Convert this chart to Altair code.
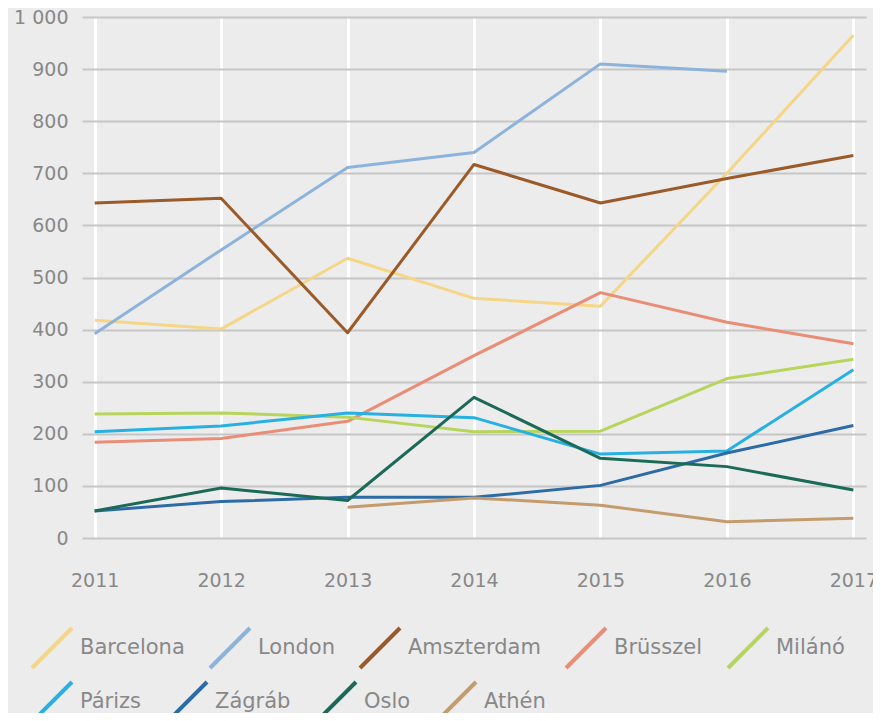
import altair as alt
import pandas as pd

years = ["2011", "2012", "2013", "2014", "2015", "2016", "2017"]
cities = ["Barcelona", "London", "Amszterdam", "Brüsszel", "Milánó",
          "Párizs", "Zágráb", "Oslo", "Athén"]
colors = ["#f5d686", "#8db3dc", "#9a5a2a", "#ea8d76", "#b7d55c",
          "#27b0e2", "#2c6ba5", "#1b6a58", "#c49b6d"]

barcelona = [418, 401, 537, 460, 445, 700, 965]
london = [392, 553, 711, 740, 910, 896, None]
amszterdam = [643, 652, 394, 717, 643, 690, 734]
brusszel = [184, 191, 224, 350, 471, 414, 373]
milano = [238, 240, 232, 204, 205, 306, 343]
parizs = [204, 215, 240, 231, 161, 167, 323]
zagrab = [52, 70, 78, 78, 101, 163, 216]
oslo = [52, 96, 72, 270, 153, 137, 92]
athen = [None, None, 59, 77, 63, 31, 38]

series = [barcelona, london, amszterdam, brusszel, milano, parizs, zagrab, oslo, athen]

rows = []
for city, vals in zip(cities, series):
    for y, v in zip(years, vals):
        if v is not None:
            rows.append({"Év": y, "Város": city, "Érték": v})
df = pd.DataFrame(rows)

row1 = cities[:5]
row2 = cities[5:]

x_enc = alt.X("Év:O", sort=years,
              scale=alt.Scale(type="point", padding=0.1),
              axis=alt.Axis(title=None, labelAngle=0, domain=False, ticks=False,
                            grid=True, gridColor="#ffffff", gridWidth=3,
                            labelPadding=33, labelFontSize=19, labelColor="#888888",
                            labelFont="DejaVu Sans"))
y_enc = alt.Y("Érték:Q",
              scale=alt.Scale(domain=[0, 1000], nice=False),
              axis=alt.Axis(title=None, domain=False, ticks=False, grid=True,
                            gridColor="#c6c6c6", gridWidth=2,
                            values=list(range(0, 1001, 100)),
                            labelExpr="replace(format(datum.value, ','), ',', ' ')",
                            labelPadding=14, labelFontSize=19, labelColor="#888888",
                            labelFont="DejaVu Sans"))


def legend(ly):
    return alt.Legend(orient="none", legendX=-52, legendY=ly,
                      direction="horizontal", columns=5, title=None, padding=0,
                      symbolType="M-1,1L1,-1", symbolSize=1600,
                      symbolStrokeWidth=4, labelFontSize=21,
                      labelColor="#888888", labelFont="DejaVu Sans",
                      labelOffset=6, columnPadding=17, symbolLimit=0)


layer1 = alt.Chart(df).transform_filter(
    alt.FieldOneOfPredicate(field="Város", oneOf=row1)
).mark_line(strokeWidth=3, strokeJoin="round").encode(
    x=x_enc, y=y_enc,
    color=alt.Color("Város:N",
                    scale=alt.Scale(domain=row1, range=colors[:5]),
                    legend=legend(609)),
)

layer2 = alt.Chart(df).transform_filter(
    alt.FieldOneOfPredicate(field="Város", oneOf=row2)
).mark_line(strokeWidth=3, strokeJoin="round").encode(
    x=x_enc, y=y_enc,
    color=alt.Color("Város:N",
                    scale=alt.Scale(domain=row2, range=colors[5:]),
                    legend=legend(663)),
)

chart = alt.layer(layer1, layer2).resolve_scale(color="independent").properties(
    width=784,
    height=521,
    autosize=alt.AutoSizeParams(type="none"),
    padding={"left": 74, "top": 9, "right": 7, "bottom": 175},
    background="#ececec",
).configure_view(strokeWidth=0, fill="#ececec")

chart.save("out.html", embed_options={"renderer": "svg", "actions": False})
